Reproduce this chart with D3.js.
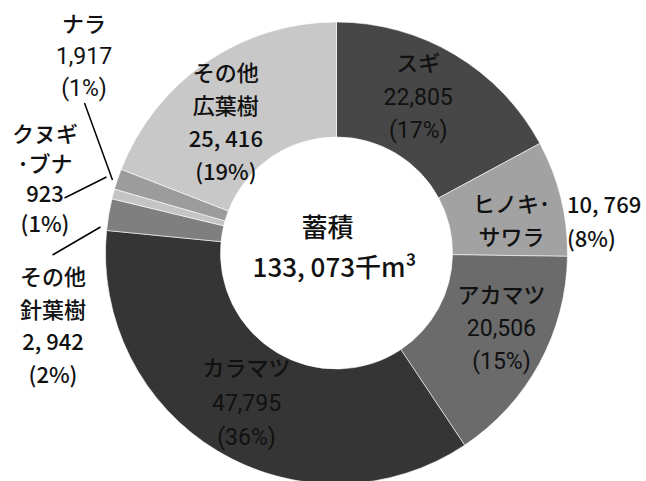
<!DOCTYPE html>
<html>
<head>
<meta charset="utf-8">
<script src="https://cdn.jsdelivr.net/npm/d3@7"></script>
<style>
  body { margin: 0; background: #fff; }
  svg text { fill: #111; }
</style>
</head>
<body>
<script>
// stock by species, thousand m3
var species = ["スギ", "ヒノキ・サワラ", "アカマツ", "カラマツ", "その他針葉樹", "クヌギ・ブナ", "ナラ", "その他広葉樹"];
var volumes = [22805, 10769, 20506, 47795, 2942, 923, 1917, 25416];
var volumeText = ["22,805", "10, 769", "20,506", "47,795", "2, 942", "923", "1,917", "25, 416"];
var shareText = ["(17%)", "(8%)", "(15%)", "(36%)", "(2%)", "(1%)", "(1%)", "(19%)"];
var nameLines = [["スギ"], ["ヒノキ･", "サワラ"], ["アカマツ"], ["カラマツ"], ["その他", "針葉樹"], ["クヌギ", "･ブナ"], ["ナラ"], ["その他", "広葉樹"]];
var totalLines = ["蓄積", "133, 073千m³"];

var colors = ["#474747", "#a2a2a2", "#6b6b6b", "#353535", "#7f7f7f", "#c4c4c4", "#9c9c9c", "#c8c8c8"];

window.onload = function() {
    drawChart();
};

function drawChart() {
    var width = 646,
        height = 481,
        cx = 336.5,
        cy = 253,
        outer = 231,
        inner = 116;

    var svg = d3.select("body")
        .append("svg")
        .attr("width", width)
        .attr("height", height);

    var g = svg.append("g")
        .attr("transform", "translate(" + cx + "," + cy + ")");

    var pie = d3.pie().sort(null);
    var arcs = pie(volumes);

    var arc = d3.arc()
        .innerRadius(inner)
        .outerRadius(outer);

    //slices
    g.selectAll(".slice")
        .data(arcs)
        .enter()
        .append("path")
        .attr("class", "slice")
        .attr("d", arc)
        .attr("fill", function(d, i) { return colors[i]; })
        .attr("stroke", "#fff")
        .attr("stroke-width", 0.6);

    //label layout: inside labels use the centroid plus a shift,
    //outside labels get a fixed anchor and a leader line
    var mid = d3.arc().innerRadius(173).outerRadius(173);
    var layout = [
        {dx: -7, dy: -8, lh: 33},
        {dx: 7, dy: 9, lh: 33},
        {dx: 13, dy: -8, lh: 33},
        {dx: -1, dy: 1, lh: 34},
        {x: 53, y: 326, lh: 32.7, line: [[-236, -26], [-284, 2]]},
        {x: 45, y: 179, lh: 30, line: [[-272, -55], [-230, -76]]},
        {x: 84, y: 56, lh: 32, line: [[-252, -150], [-224, -73]]},
        {dx: -13, dy: 12, lh: 33}
    ];

    var gothic = "'Noto Sans CJK JP', sans-serif";
    var roboto = "Roboto, 'Noto Sans CJK JP', sans-serif";

    arcs.forEach(function(d, i) {
        var L = layout[i];
        var x, y;
        if (L.x !== undefined) {
            x = L.x - cx;
            y = L.y - cy;
        } else {
            var c = mid.centroid(d);
            x = c[0] + L.dx;
            y = c[1] + L.dy;
        }

        var lines = [];
        nameLines[i].forEach(function(t) { lines.push({t: t, f: gothic}); });
        var numFont = volumeText[i].indexOf(", ") >= 0 || i == 5 ? gothic : roboto;
        if (i != 1) {
            lines.push({t: volumeText[i], f: numFont});
            lines.push({t: shareText[i], f: numFont});
        }

        var n = lines.length;
        g.selectAll(".lab" + i)
            .data(lines)
            .enter()
            .append("text")
            .attr("class", "lab" + i)
            .attr("x", x)
            .attr("y", function(l, k) { return y + (k - (n - 1) / 2) * L.lh; })
            .attr("dy", "0.36em")
            .attr("text-anchor", "middle")
            .style("font-family", function(l) { return l.f; })
            .style("font-weight", function(l) { return l.f == roboto ? 400 : 500; })
            .style("font-size", function(l) { return l.f == roboto ? "23px" : "22px"; })
            .text(function(l) { return l.t; });

        if (L.line) {
            g.append("line")
                .attr("x1", L.line[0][0])
                .attr("y1", L.line[0][1])
                .attr("x2", L.line[1][0])
                .attr("y2", L.line[1][1])
                .attr("stroke", "#000")
                .attr("stroke-width", 1.5);
        }
    });

    //hinoki value sits outside the ring, right of the name
    var hinoki = g.append("g")
        .attr("transform", "translate(" + (567 - cx) + "," + (205 - cy) + ")");
    [volumeText[1], shareText[1]].forEach(function(t, k) {
        hinoki.append("text")
            .attr("x", 0)
            .attr("y", k * 34)
            .attr("dy", "0.36em")
            .style("font-family", gothic)
            .style("font-weight", 500)
            .style("font-size", "22px")
            .text(t);
    });

    //total in the hole
    g.selectAll(".total")
        .data(totalLines)
        .enter()
        .append("text")
        .attr("class", "total")
        .attr("x", function(t, k) { return k == 0 ? -9 : -2; })
        .attr("y", function(t, k) { return k == 0 ? -25 : 15; })
        .attr("dy", "0.36em")
        .attr("text-anchor", "middle")
        .style("font-family", gothic)
        .style("font-weight", 500)
        .style("font-size", "26px")
        .text(function(t) { return t; });
}
</script>
</body>
</html>
